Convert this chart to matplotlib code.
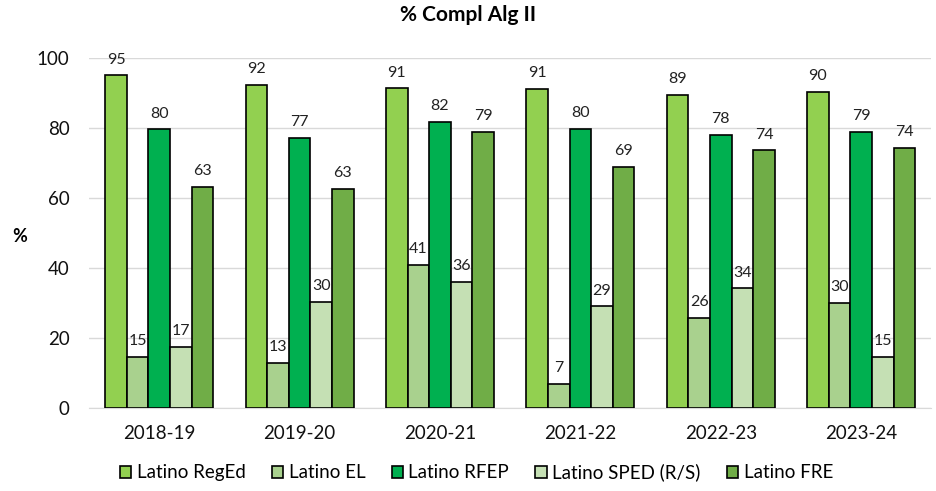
import numpy as np
import matplotlib
matplotlib.use("Agg")
from matplotlib import pyplot as plt

plt.rcParams['font.family'] = ['Lato', 'DejaVu Sans']

years = ["2018-19", "2019-20", "2020-21", "2021-22", "2022-23", "2023-24"]
series = ["Latino RegEd", "Latino EL", "Latino RFEP", "Latino SPED (R/S)", "Latino FRE"]
colors = ["#92D050", "#A9D18E", "#00B050", "#C5E0B4", "#70AD47"]

reged = [95.0, 92.2, 91.3, 91.1, 89.4, 90.4]
el = [14.6, 12.9, 40.9, 7.0, 25.7, 30.1]
rfep = [79.6, 77.2, 81.7, 79.7, 78.1, 78.9]
sped = [17.4, 30.4, 36.1, 29.0, 34.2, 14.7]
fre = [63.1, 62.7, 78.9, 68.9, 73.6, 74.4]
values = [reged, el, rfep, sped, fre]

fig = plt.figure(figsize=(9.37, 4.91), dpi=100)
ax = fig.add_axes([0.095, 0.169, 0.899, 0.713])

x = np.arange(len(years))
w = 0.154
for i, (name, vals, c) in enumerate(zip(series, values, colors)):
    pos = x + (i - 2) * w
    bars = ax.bar(pos, vals, w, color=c, edgecolor="black", linewidth=1.2, label=name, zorder=3)
    for b, v in zip(bars, vals):
        ax.text(b.get_x() + b.get_width() / 2, v + 2.5, f"{v:.0f}", ha="center", va="bottom",
                fontsize=11.5, color="#222222")

ax.set_ylim(0, 100)
ax.set_xlim(-0.5, len(years) - 0.5)
ax.set_yticks([0, 20, 40, 60, 80, 100])
ax.set_xticks(x)
ax.set_xticklabels(years)
ax.tick_params(axis="both", length=0, labelsize=13.5, colors="#111111")
ax.tick_params(axis="y", pad=14)
ax.tick_params(axis="x", pad=12)
ax.grid(axis="y", color="#D9D9D9", linewidth=1, zorder=0)
for s in ["top", "right", "left"]:
    ax.spines[s].set_visible(False)
ax.spines["bottom"].set_color("#D9D9D9")

ax.set_ylabel("%", fontsize=13, fontweight="bold", rotation=0, va="center", ha="center")
ax.yaxis.set_label_coords(-0.082, 0.49)
fig.suptitle("% Compl Alg II", fontsize=15, fontweight="bold", y=0.99)

ax.legend(loc="upper center", bbox_to_anchor=(0.46, -0.11), ncol=5, frameon=False,
          fontsize=13.5, handlelength=0.6, handleheight=0.6, handletextpad=0.3, columnspacing=1.4)

fig.savefig("out.png", dpi=100)
